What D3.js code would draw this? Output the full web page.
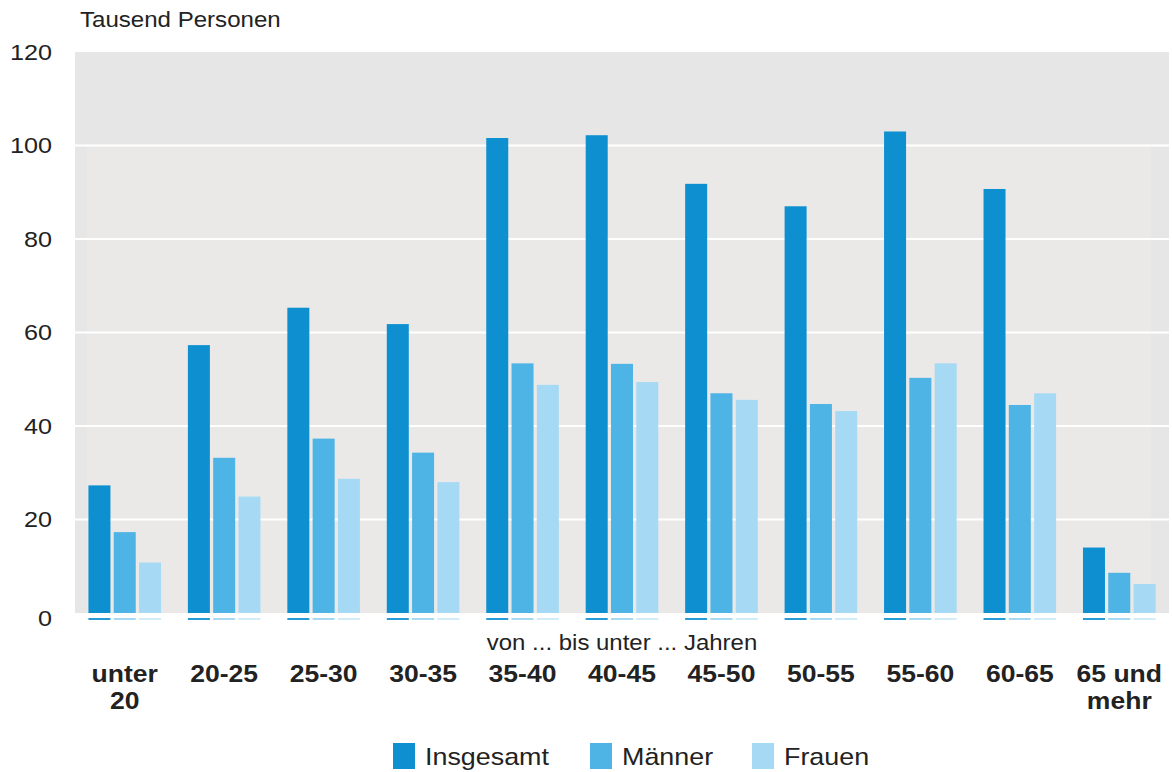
<!DOCTYPE html>
<html><head><meta charset="utf-8">
<script src="https://cdn.jsdelivr.net/npm/d3@7/dist/d3.min.js"></script>
<style>body{margin:0;background:#fff;font-family:Arial,"Liberation Sans",sans-serif}</style>
</head><body><svg id="c" width="1172" height="772"></svg>
<script>
const categories = ["unter 20","20-25","25-30","30-35","35-40","40-45","45-50","50-55","55-60","60-65","65 und mehr"];
const categoryLines = [["unter","20"],["20-25"],["25-30"],["30-35"],["35-40"],["40-45"],["45-50"],["50-55"],["55-60"],["60-65"],["65 und","mehr"]];
const seriesNames = ["Insgesamt","Männer","Frauen"];
const insgesamt = [27.3,57.3,65.3,61.8,101.6,102.2,91.8,87.0,103.0,90.7,14.0];
const maenner   = [17.3,33.2,37.3,34.3,53.4,53.3,47.0,44.7,50.3,44.5,8.6];
const frauen    = [10.8,24.9,28.7,28.0,48.8,49.4,45.6,43.2,53.4,47.0,6.2];
const yTicks = [0,20,40,60,80,100,120];
const colors = ["#0e90d0","#4eb3e5","#a6daf4"];

const series = [insgesamt, maenner, frauen];
const SX = 1.12; // horizontal stretch of the typeface
const svg = d3.select("#c");
const pL = 75, pR = 1169, pT = 52, pB = 613;
const x = d3.scaleBand().domain(categories).range([pL, pR]).paddingInner(0.27).paddingOuter(0.135);
const xs = d3.scaleBand().domain(seriesNames).range([0, x.bandwidth()]).paddingInner(0.13);
const y = d3.scaleLinear().domain([0,120]).range([pB, pT]);

svg.append("rect").attr("x",pL).attr("y",pT).attr("width",pR-pL).attr("height",pB-pT).attr("fill","#e6e6e6");
svg.append("rect").attr("x",pL+12).attr("y",y(100)).attr("width",pR-pL-30).attr("height",pB-y(100)).attr("fill","#ebe9e8");

// gridlines
svg.append("g").selectAll("line").data(yTicks.filter(d=>d>0 && d<120)).join("line")
  .attr("x1",pL).attr("x2",pR).attr("y1",d=>y(d)).attr("y2",d=>y(d))
  .attr("stroke","#fff").attr("stroke-width",2);

// y axis labels
const yAxis = d3.axisLeft(y).tickValues(yTicks).tickSize(0).tickPadding(0);
const ga = svg.append("g").attr("transform",`translate(52,0)`).call(yAxis);
ga.select(".domain").remove();
ga.selectAll("text").attr("x",0).attr("font-size",22.5).attr("fill","#222")
  .attr("font-family","Arial,'Liberation Sans',sans-serif").attr("transform",`scale(${SX},1)`);
ga.selectAll(".tick").filter(d=>d===0).select("text").attr("y",5);

// bars
const groups = svg.append("g").selectAll("g").data(categories).join("g")
  .attr("transform",d=>`translate(${x(d)},0)`);
seriesNames.forEach((s,si)=>{
  groups.append("rect").attr("x",xs(s)).attr("width",xs.bandwidth())
    .attr("y",(d,i)=>y(series[si][i])).attr("height",(d,i)=>pB-y(series[si][i]))
    .attr("fill",colors[si]);
  groups.append("rect").attr("x",xs(s)).attr("width",xs.bandwidth())
    .attr("y",pB+5).attr("height",2).attr("fill",colors[si]).attr("opacity",si===0?0.9:0.5);
});
// zero line
svg.append("line").attr("x1",pL).attr("x2",pR).attr("y1",pB+1.5).attr("y2",pB+1.5).attr("stroke","#fff").attr("stroke-width",3);

// title
svg.append("text").attr("transform",`translate(80,27) scale(${SX},1)`).attr("font-size",21.5).attr("fill","#222").text("Tausend Personen");

// x labels
const xl = svg.append("g").selectAll("text").data(categories).join("text")
  .attr("transform",d=>`translate(${x(d)+x.bandwidth()/2},682) scale(${SX},1)`).attr("text-anchor","middle")
  .attr("font-size",23.7).attr("font-weight","bold").attr("fill","#222");
xl.each(function(d,i){
  const t = d3.select(this);
  categoryLines[i].forEach((ln,j)=>t.append("tspan").attr("x",0).attr("dy",j===0?0:27).text(ln));
});
svg.append("text").attr("transform",`translate(622,650) scale(${SX},1)`).attr("text-anchor","middle").attr("font-size",21.4).attr("fill","#222").text("von ... bis unter ... Jahren");

// legend
const legX = [393, 590, 752];
const lg = svg.append("g").selectAll("g").data(seriesNames).join("g").attr("transform",(d,i)=>`translate(${legX[i]},743)`);
lg.append("rect").attr("width",22).attr("height",26).attr("fill",(d,i)=>colors[i]);
lg.append("text").attr("transform",`translate(32,22) scale(${SX},1)`).attr("font-size",24).attr("fill","#222").text(d=>d);
</script></body></html>
